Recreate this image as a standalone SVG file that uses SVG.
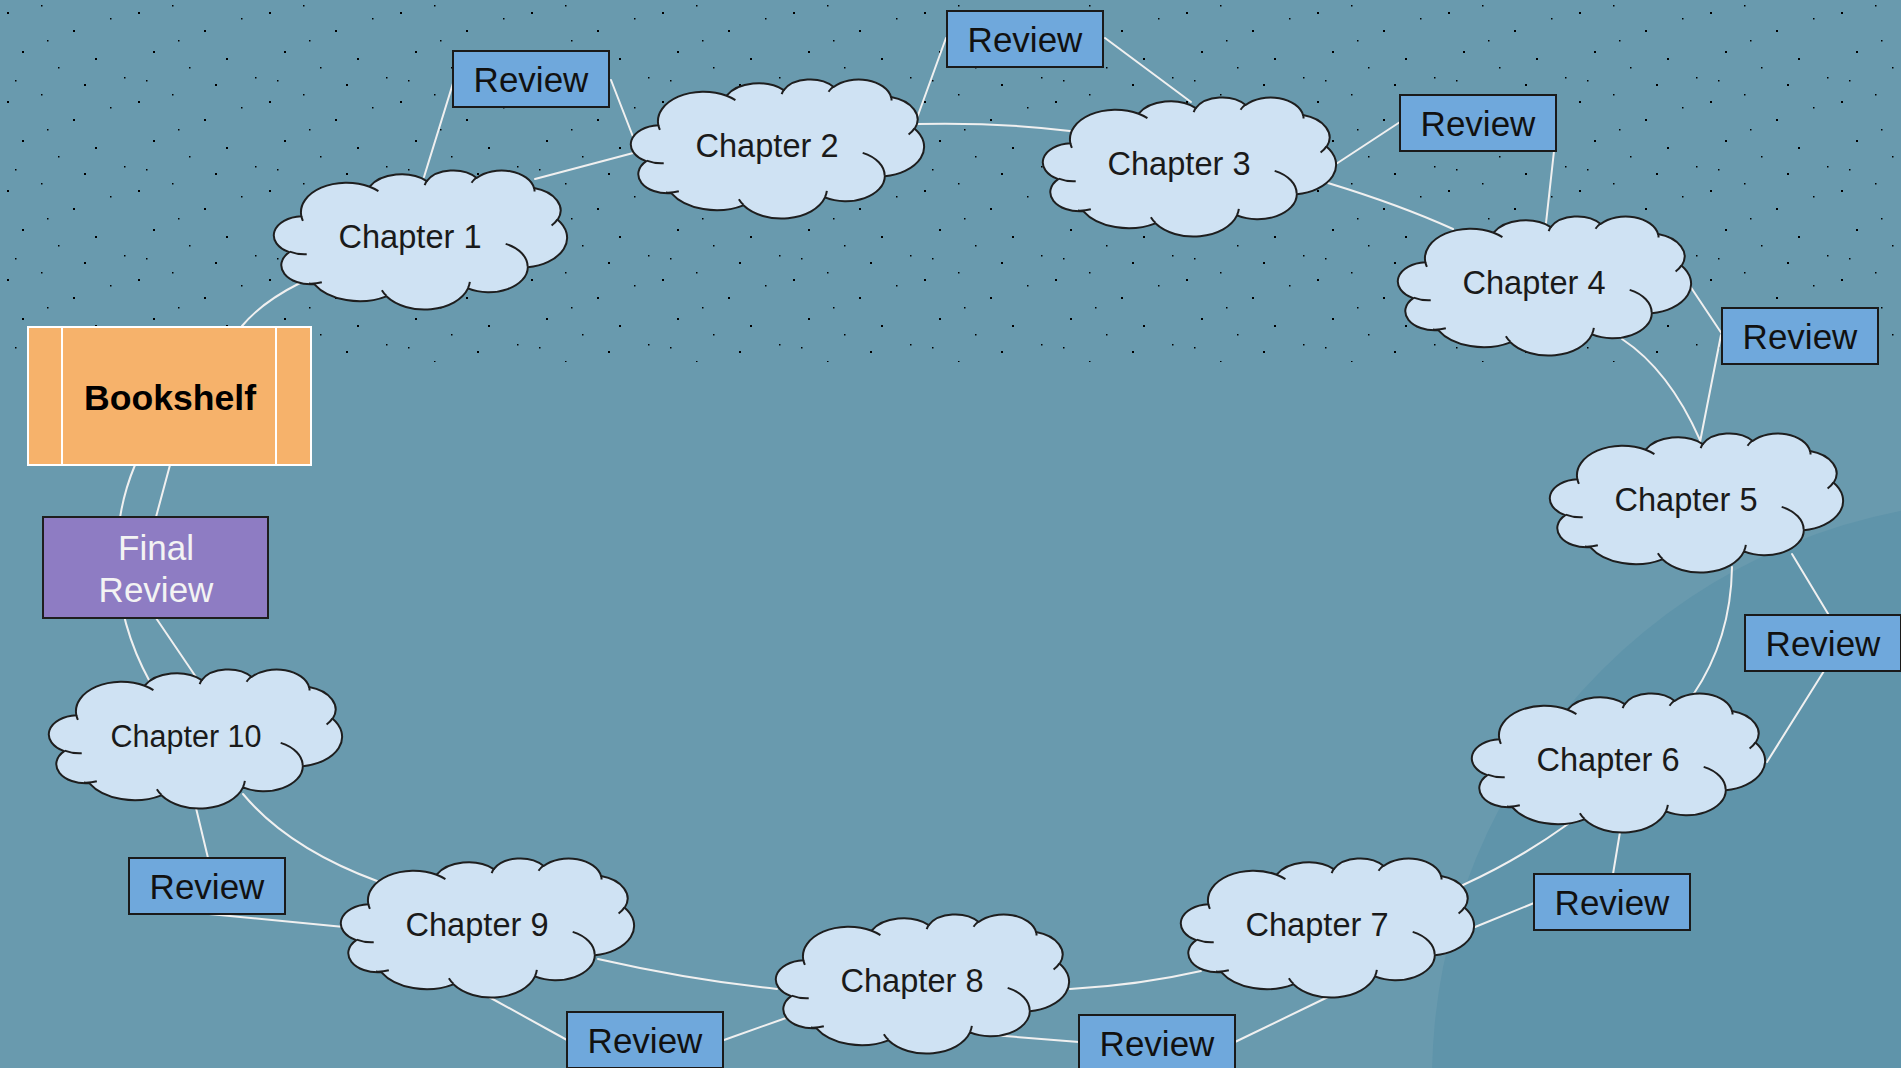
<svg xmlns="http://www.w3.org/2000/svg" xmlns:xlink="http://www.w3.org/1999/xlink" width="1901" height="1068" viewBox="0 0 1901 1068">
<defs>
<style>
.conn path{fill:none;stroke:#f0f0f0;stroke-width:2;stroke-linecap:round}
.ct{font-family:"Liberation Sans",Arial,sans-serif;font-size:34px;fill:#1a1a1a;text-anchor:middle}
.rv{fill:#6fa8dc;stroke:#1a1a1a;stroke-width:2}
.rt{font-family:"Liberation Sans",Arial,sans-serif;font-size:35px;fill:#111111;text-anchor:middle}
</style>
<pattern id="dotsA" x="0" y="0" width="131" height="89" patternUnits="userSpaceOnUse">
<rect x="7" y="12" width="2" height="2" fill="#000"/>
<rect x="41" y="5" width="1.5" height="1.5" fill="#000"/>
<rect x="73" y="30" width="2" height="2" fill="#000"/>
<rect x="110" y="18" width="1.5" height="1.5" fill="#000"/>
<rect x="22" y="51" width="2" height="2" fill="#000"/>
<rect x="58" y="67" width="1.5" height="1.5" fill="#000"/>
<rect x="95" y="58" width="2" height="2" fill="#000"/>
<rect x="124" y="77" width="1.5" height="1.5" fill="#000"/>
<rect x="15" y="80" width="1.5" height="1.5" fill="#000"/>
<rect x="84" y="84" width="2" height="2" fill="#000"/>
<rect x="47" y="40" width="1.5" height="1.5" fill="#000"/>
</pattern>
<g id="cloudShape">
<path fill="#cfe2f3" stroke="#1e1e1e" stroke-width="2" stroke-linejoin="round" d="M26.36,46.24 A45.65,29.57 0 0 1 94.66,16.73 A36.05,23.38 0 0 1 151.78,11.04 A29.50,19.13 0 0 1 201.64,7.97 A32.83,21.22 0 0 1 259.00,17.93 A36.05,23.40 0 0 1 282.66,49.73 A45.79,29.67 0 0 1 252.82,97.16 A39.10,25.31 0 0 1 193.01,118.43 A45.64,29.65 0 0 1 111.39,126.32 A52.18,33.92 0 0 1 39.21,114.11 A29.47,19.04 0 0 1 14.26,82.18 A29.37,19.13 0 0 1 26.36,46.24 Z"/>
<path fill="none" stroke="#1e1e1e" stroke-width="2" d="M31.72,84.23 A29.37,19.13 0 0 1 14.60,81.66 M46.83,112.29 A29.47,19.04 0 0 1 33.98,113.61 M111.38,125.78 A45.64,29.65 0 0 1 106.87,120.18 M194.85,111.81 A45.64,29.65 0 0 1 193.04,117.96 M230.69,73.86 A39.10,25.31 0 0 1 252.66,96.81 M282.53,49.40 A36.05,23.40 0 0 1 276.60,55.54 M259.04,17.46 A32.83,21.22 0 0 1 259.56,21.52 M196.55,12.72 A32.83,21.22 0 0 1 201.56,7.53 M149.66,15.19 A29.50,19.13 0 0 1 152.08,10.72 M94.63,16.71 A45.65,29.57 0 0 1 103.42,21.05 M27.90,50.80 A45.65,29.57 0 0 1 26.37,46.24"/>
</g>
</defs>

<g id="background">
<rect x="0" y="0" width="1901" height="1068" fill="#699aae"/>
<circle cx="2012" cy="1080" r="580" fill="#5f94aa"/>
<rect x="0" y="0" width="1901" height="362" fill="url(#dotsA)"/>
</g>

<g id="connectors" class="conn">
<path d="M242,326 Q262,302 300,283"/>
<path d="M424,177 L454,80"/>
<path d="M535,179 L637,152"/>
<path d="M611,80 L637,147"/>
<path d="M917,118 L946,38"/>
<path d="M917,124 Q995,122 1070,131"/>
<path d="M1105,38 L1191,102"/>
<path d="M1336,164 L1400,122"/>
<path d="M1328,183 Q1400,205 1453,229"/>
<path d="M1554,151 L1546,223"/>
<path d="M1690,286 L1722,334"/>
<path d="M1622,339 Q1669,370 1700,440"/>
<path d="M1721,335 L1700,442"/>
<path d="M1792,554 L1830,617"/>
<path d="M1732,567 Q1731,639 1693,695"/>
<path d="M1824,671 L1767,762"/>
<path d="M1620,832 L1613,874"/>
<path d="M1568,824 Q1518,860 1463,885"/>
<path d="M1534,903 L1475,927"/>
<path d="M1328,997 L1235,1042"/>
<path d="M1201,971 Q1140,985 1070,989"/>
<path d="M992,1035 L1079,1042"/>
<path d="M598,959 Q690,980 777,989"/>
<path d="M786,1018 L724,1040"/>
<path d="M489,997 L567,1040"/>
<path d="M344,927 L209,914"/>
<path d="M377,881 Q288,848 243,794"/>
<path d="M196,808 L208,858"/>
<path d="M135,465 C112,520 105,600 150,682"/>
<path d="M170,465 L156,517"/>
<path d="M156,618 L196,677"/>
</g>

<g id="bookshelf">
<rect x="28" y="327" width="283" height="138" fill="#f6b26b" stroke="#ffffff" stroke-width="2"/>
<line x1="62" y1="327" x2="62" y2="465" stroke="#ffffff" stroke-width="2"/>
<line x1="276" y1="327" x2="276" y2="465" stroke="#ffffff" stroke-width="2"/>
<text x="170" y="410" font-family="'Liberation Sans',Arial,sans-serif" font-size="35" font-weight="bold" fill="#000" text-anchor="middle" textLength="172" lengthAdjust="spacingAndGlyphs">Bookshelf</text>
</g>

<g id="final-review">
<rect x="43" y="517" width="225" height="101" fill="#8e7cc3" stroke="#1e1e1e" stroke-width="2"/>
<text x="156" y="560" font-family="'Liberation Sans',Arial,sans-serif" font-size="35" fill="#f3f3f3" text-anchor="middle">Final</text>
<text x="156" y="602" font-family="'Liberation Sans',Arial,sans-serif" font-size="35" fill="#f3f3f3" text-anchor="middle">Review</text>
</g>

<g id="chapter-1"><use xlink:href="#cloudShape" href="#cloudShape" x="275" y="170"/><text class="ct" x="410" y="248" textLength="143" lengthAdjust="spacingAndGlyphs">Chapter 1</text></g>
<g id="chapter-2"><use xlink:href="#cloudShape" href="#cloudShape" x="632" y="79"/><text class="ct" x="767" y="157" textLength="143" lengthAdjust="spacingAndGlyphs">Chapter 2</text></g>
<g id="chapter-3"><use xlink:href="#cloudShape" href="#cloudShape" x="1044" y="97"/><text class="ct" x="1179" y="175" textLength="143" lengthAdjust="spacingAndGlyphs">Chapter 3</text></g>
<g id="chapter-4"><use xlink:href="#cloudShape" href="#cloudShape" x="1399" y="216"/><text class="ct" x="1534" y="294" textLength="143" lengthAdjust="spacingAndGlyphs">Chapter 4</text></g>
<g id="chapter-5"><use xlink:href="#cloudShape" href="#cloudShape" x="1551" y="433"/><text class="ct" x="1686" y="511" textLength="143" lengthAdjust="spacingAndGlyphs">Chapter 5</text></g>
<g id="chapter-6"><use xlink:href="#cloudShape" href="#cloudShape" x="1473" y="693"/><text class="ct" x="1608" y="771" textLength="143" lengthAdjust="spacingAndGlyphs">Chapter 6</text></g>
<g id="chapter-7"><use xlink:href="#cloudShape" href="#cloudShape" x="1182" y="858"/><text class="ct" x="1317" y="936" textLength="143" lengthAdjust="spacingAndGlyphs">Chapter 7</text></g>
<g id="chapter-8"><use xlink:href="#cloudShape" href="#cloudShape" x="777" y="914"/><text class="ct" x="912" y="992" textLength="143" lengthAdjust="spacingAndGlyphs">Chapter 8</text></g>
<g id="chapter-9"><use xlink:href="#cloudShape" href="#cloudShape" x="342" y="858"/><text class="ct" x="477" y="936" textLength="143" lengthAdjust="spacingAndGlyphs">Chapter 9</text></g>
<g id="chapter-10"><use xlink:href="#cloudShape" href="#cloudShape" x="50" y="669"/><text class="ct" x="186" y="747" style="font-size:31px" textLength="151" lengthAdjust="spacingAndGlyphs">Chapter 10</text></g>

<g id="review-1"><rect class="rv" x="453" y="51" width="156" height="56"/><text class="rt" x="531" y="92">Review</text></g>
<g id="review-2"><rect class="rv" x="947" y="11" width="156" height="56"/><text class="rt" x="1025" y="52">Review</text></g>
<g id="review-3"><rect class="rv" x="1400" y="95" width="156" height="56"/><text class="rt" x="1478" y="136">Review</text></g>
<g id="review-4"><rect class="rv" x="1722" y="308" width="156" height="56"/><text class="rt" x="1800" y="349">Review</text></g>
<g id="review-5"><rect class="rv" x="1745" y="615" width="156" height="56"/><text class="rt" x="1823" y="656">Review</text></g>
<g id="review-6"><rect class="rv" x="1534" y="874" width="156" height="56"/><text class="rt" x="1612" y="915">Review</text></g>
<g id="review-7"><rect class="rv" x="1079" y="1015" width="156" height="56"/><text class="rt" x="1157" y="1056">Review</text></g>
<g id="review-8"><rect class="rv" x="567" y="1012" width="156" height="56"/><text class="rt" x="645" y="1053">Review</text></g>
<g id="review-9"><rect class="rv" x="129" y="858" width="156" height="56"/><text class="rt" x="207" y="899">Review</text></g>
</svg>
